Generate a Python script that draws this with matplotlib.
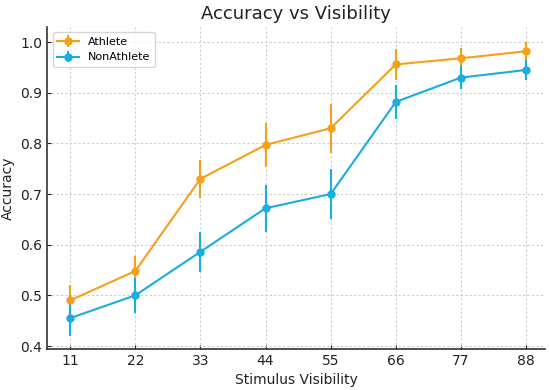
import matplotlib
matplotlib.use("Agg")
import matplotlib.pyplot as plt

visibility = [11, 22, 33, 44, 55, 66, 77, 88]

athlete = [0.490, 0.548, 0.730, 0.797, 0.830, 0.956, 0.968, 0.982]
athlete_err = [0.030, 0.029, 0.037, 0.043, 0.048, 0.031, 0.020, 0.019]

nonathlete = [0.455, 0.500, 0.586, 0.672, 0.700, 0.882, 0.930, 0.945]
nonathlete_err = [0.035, 0.035, 0.040, 0.046, 0.050, 0.033, 0.022, 0.020]

orange = "#f5a01a"
blue = "#18aee0"

fig = plt.figure(figsize=(5.5, 3.9), dpi=100)
ax = fig.add_axes([0.0855, 0.105, 0.9055, 0.826])

ax.errorbar(visibility, athlete, yerr=athlete_err, color=orange, marker="o",
            markersize=5, linewidth=1.5, elinewidth=1.5, capsize=0, label="Athlete")
ax.errorbar(visibility, nonathlete, yerr=nonathlete_err, color=blue, marker="o",
            markersize=5, linewidth=1.5, elinewidth=1.5, capsize=0, label="NonAthlete")

ax.set_xlim(7.1, 91.2)
ax.set_ylim(0.394, 1.03)
ax.set_xticks(visibility)
ax.set_yticks([0.4, 0.5, 0.6, 0.7, 0.8, 0.9, 1.0])
ax.set_yticklabels(["0.4", "0.5", "0.6", "0.7", "0.8", "0.9", "1.0"])

ax.grid(True, color="#cccccc", linestyle=(0, (2, 2)), linewidth=0.8)
ax.set_axisbelow(True)
for side in ["top", "right"]:
    ax.spines[side].set_visible(False)
for side in ["left", "bottom"]:
    ax.spines[side].set_color("#333333")
    ax.spines[side].set_linewidth(1.2)
ax.tick_params(direction="in", length=3, labelsize=10, colors="#222222")

ax.set_title("Accuracy vs Visibility", fontsize=13, color="#222222")
ax.set_xlabel("Stimulus Visibility", fontsize=10, color="#222222")
ax.set_ylabel("Accuracy", fontsize=10, color="#222222")

leg = ax.legend(loc="upper left", fontsize=8, frameon=True)
leg.get_frame().set_edgecolor("#cccccc")

fig.savefig("out.png", dpi=100)
